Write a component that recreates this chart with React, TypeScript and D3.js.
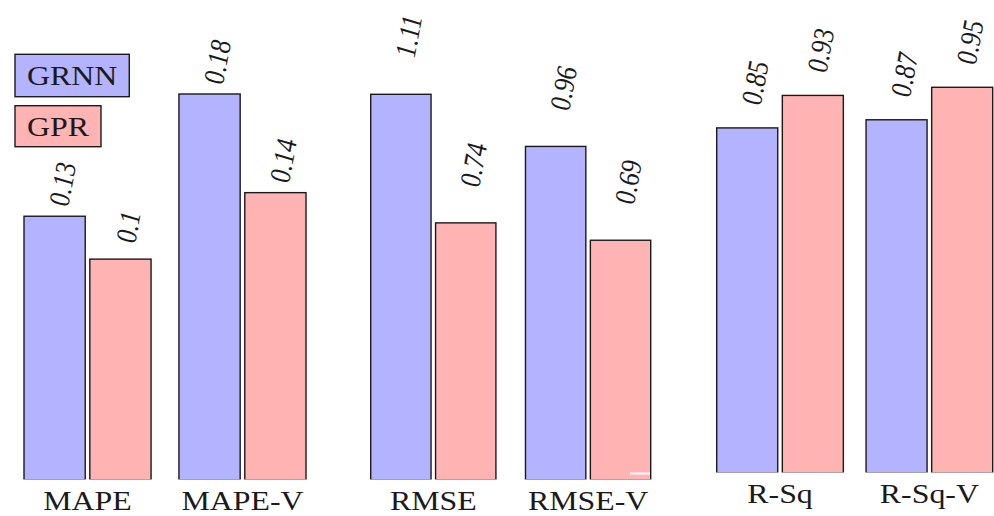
import React, { useEffect, useRef } from "react";
import * as d3 from "d3";

// ---- data ----
const seriesNames = ["GRNN", "GPR"];
const seriesColors = ["#b3b3ff", "#ffb3b3"];

const mapeCategories = ["MAPE", "MAPE-V"];
const mapeGRNN = [0.123, 0.18];
const mapeGPR = [0.103, 0.134];
const mapeGRNNLabels = ["0.13", "0.18"];
const mapeGPRLabels = ["0.1", "0.14"];

const rmseCategories = ["RMSE", "RMSE-V"];
const rmseGRNN = [1.11, 0.96];
const rmseGPR = [0.74, 0.69];
const rmseGRNNLabels = ["1.11", "0.96"];
const rmseGPRLabels = ["0.74", "0.69"];

const rsqCategories = ["R-Sq", "R-Sq-V"];
const rsqGRNN = [0.85, 0.87];
const rsqGPR = [0.93, 0.95];
const rsqGRNNLabels = ["0.85", "0.87"];
const rsqGPRLabels = ["0.93", "0.95"];

// ---- layout ----
const W = 994;
const H = 516;
const STRETCH = 1.18;
const FONT = "'Liberation Serif', 'DejaVu Serif', serif";

const panelLayouts = [
  { yMax: 0.18, x0: 24, x1: 306, padInner: 0.18, base: 480, top: 94, lblOff: 32 },
  { yMax: 1.11, x0: 370.7, x1: 650.7, padInner: 0.191, base: 480, top: 94.3, lblOff: 58 },
  { yMax: 0.95, x0: 716.7, x1: 992.7, padInner: 0.152, base: 473, top: 87.3, lblOff: 45 },
];

const panelData = [
  { cats: mapeCategories, vals: [mapeGRNN, mapeGPR], lbls: [mapeGRNNLabels, mapeGPRLabels] },
  { cats: rmseCategories, vals: [rmseGRNN, rmseGPR], lbls: [rmseGRNNLabels, rmseGPRLabels] },
  { cats: rsqCategories, vals: [rsqGRNN, rsqGPR], lbls: [rsqGRNNLabels, rsqGPRLabels] },
];

export default function App() {
  const ref = useRef<SVGSVGElement>(null);

  useEffect(() => {
    const svg = d3.select(ref.current);
    svg.selectAll("*").remove();
    svg.append("rect").attr("width", W).attr("height", H).attr("fill", "#fff");

    panelData.forEach((pd, pi) => {
      const L = panelLayouts[pi];
      const g = svg.append("g");
      const x = d3.scaleBand<string>().domain(pd.cats).range([L.x0, L.x1]).paddingInner(L.padInner).paddingOuter(0);
      const xs = d3.scaleBand<string>().domain(seriesNames).range([0, x.bandwidth()]).paddingInner(0.07).paddingOuter(0);
      const y = d3.scaleLinear().domain([0, L.yMax]).range([L.base, L.top]);

      pd.cats.forEach((c, ci) => {
        seriesNames.forEach((s, si) => {
          const v = pd.vals[si][ci];
          const bx = (x(c) as number) + (xs(s) as number);
          g.append("rect")
            .attr("x", bx)
            .attr("y", y(v))
            .attr("width", xs.bandwidth())
            .attr("height", y(0) - y(v))
            .attr("fill", seriesColors[si])
            .attr("stroke", "#1a1a1a")
            .attr("stroke-width", 1.4);
        });
      });

      // white axis line hiding bottom edges
      g.append("line")
        .attr("x1", pi === 2 ? 630 : L.x0 - 2)
        .attr("x2", pi === 2 ? 649.8 : L.x1 + 2)
        .attr("y1", L.base + 0.5)
        .attr("y2", L.base + 0.5)
        .attr("stroke", "#fff")
        .attr("stroke-width", pi === 2 ? 2 : 2.2);
      if (pi === 2) {
        g.append("line")
          .attr("x1", L.x0 - 2)
          .attr("x2", W)
          .attr("y1", L.base + 0.5)
          .attr("y2", L.base + 0.5)
          .attr("stroke", "#fff")
          .attr("stroke-width", 2);
      }

      // value labels
      pd.cats.forEach((c, ci) => {
        seriesNames.forEach((s, si) => {
          const v = pd.vals[si][ci];
          const cx = (x(c) as number) + (xs(s) as number) + xs.bandwidth() / 2 + 8;
          const cy = y(v) - L.lblOff;
          g.append("g")
            .attr("transform", `translate(${cx},${cy}) scale(${STRETCH},1) rotate(-81)`)
            .append("text")
            .attr("text-anchor", "middle")
            .attr("dominant-baseline", "central")
            .attr("font-family", FONT)
            .attr("font-style", "italic")
            .attr("font-size", 25)
            .attr("fill", "#1a1a1a")
            .text(pd.lbls[si][ci]);
        });
      });

      // category labels
      pd.cats.forEach((c) => {
        const cx = (x(c) as number) + x.bandwidth() / 2;
        g.append("g")
          .attr("transform", `translate(${cx},${L.base + 29.5}) scale(${STRETCH},1)`)
          .append("text")
          .attr("text-anchor", "middle")
          .attr("font-family", FONT)
          .attr("font-size", 27)
          .attr("fill", "#1a1a1a")
          .text(c);
      });
    });

    // legend
    const legendTops = [54.3, 105.7];
    const legendH = [42.4, 41];
    seriesNames.forEach((s, si) => {
      const lg = svg.append("g");
      const rect = lg.append("rect");
      const tg = lg.append("g");
      const t = tg
        .append("text")
        .attr("font-family", FONT)
        .attr("font-size", 27)
        .attr("fill", "#1a1a1a")
        .text(s);
      const tw = (t.node() as SVGTextElement).getComputedTextLength() * STRETCH;
      const bx = 15;
      const padX = 12;
      const bw = tw + padX * 2;
      rect
        .attr("x", bx)
        .attr("y", legendTops[si])
        .attr("width", bw)
        .attr("height", legendH[si])
        .attr("fill", seriesColors[si])
        .attr("stroke", "#1a1a1a")
        .attr("stroke-width", 1.4);
      tg.attr("transform", `translate(${bx + padX},${legendTops[si] + 30.5}) scale(${STRETCH},1)`);
    });
  }, []);

  return (
    <svg
      ref={ref}
      width={W}
      height={H}
      style={{ position: "absolute", left: 0, top: 0, display: "block" }}
    />
  );
}
